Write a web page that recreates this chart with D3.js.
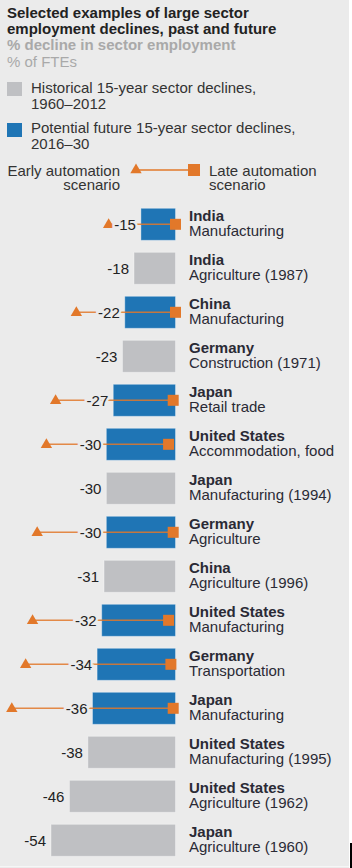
<!DOCTYPE html>
<html>
<head>
<meta charset="utf-8">
<script src="https://cdn.jsdelivr.net/npm/d3@7"></script>
<style>
  html, body { margin: 0; padding: 0; background: #fff; }
  svg { display: block; font-family: "Liberation Sans", Arial, sans-serif; }
</style>
</head>
<body>
<div id="chart"></div>
<script>
// Data
const countries = ["India", "India", "China", "Germany", "Japan", "United States", "Japan", "Germany",
    "China", "United States", "Germany", "Japan", "United States", "United States", "Japan"];
const sectors = ["Manufacturing", "Agriculture (1987)", "Manufacturing", "Construction (1971)", "Retail trade",
    "Accommodation, food", "Manufacturing (1994)", "Agriculture", "Agriculture (1996)", "Manufacturing",
    "Transportation", "Manufacturing", "Manufacturing (1995)", "Agriculture (1962)", "Agriculture (1960)"];
const kinds = ["future", "historical", "future", "historical", "future", "future", "historical", "future",
    "historical", "future", "future", "future", "historical", "historical", "historical"];
const declines = [-15, -18, -22, -23, -27, -30, -30, -30, -31, -32, -34, -36, -38, -46, -54];
// early / late automation scenarios (null for historical rows)
const earlyScenario = [-29, null, -43, null, -52, -56, null, -60, null, -62, -65, -71, null, null, null];
const lateScenario = [0, null, 0, null, -1, -3, null, -1, null, -3, -2, -1, null, null, null];

const width = 352, height = 868;
const bg = "#ebebeb";
const orange = "#e2782a";

const color = d3.scaleOrdinal()
    .domain(["historical", "future"])
    .range(["#bfc0c3", "#1f75b5"]);

const svg = d3.select("#chart").append("svg")
    .attr("width", width)
    .attr("height", height);

// panel
svg.append("rect").attr("x", 0).attr("y", 0).attr("width", 349).attr("height", height).attr("fill", bg);
svg.append("line").attr("x1", 0).attr("x2", 349).attr("y1", 866.5).attr("y2", 866.5)
    .attr("stroke", "#f6f6f6").attr("stroke-width", 1);
svg.append("rect").attr("x", 350).attr("y", 843).attr("width", 2).attr("height", 25).attr("fill", "#000");

// Title and subtitle
const title = svg.append("g").attr("font-size", 15);
title.append("text").attr("x", 7).attr("y", 17.5).attr("font-weight", "bold").attr("fill", "#222")
    .text("Selected examples of large sector");
title.append("text").attr("x", 7).attr("y", 34).attr("font-weight", "bold").attr("fill", "#222")
    .text("employment declines, past and future");
title.append("text").attr("x", 7).attr("y", 50).attr("font-weight", "bold").attr("fill", "#a9a9a9")
    .text("% decline in sector employment");
title.append("text").attr("x", 7).attr("y", 66.5).attr("fill", "#a9a9a9")
    .text("% of FTEs");

// Legend
const legend = svg.append("g").attr("font-size", 15).attr("fill", "#333");
legend.append("rect").attr("x", 7).attr("y", 82).attr("width", 15).attr("height", 14).attr("fill", color("historical"));
legend.append("text").attr("x", 31).attr("y", 92.5).text("Historical 15-year sector declines,");
legend.append("text").attr("x", 31).attr("y", 108.5).text("1960\u20132012");
legend.append("rect").attr("x", 7).attr("y", 123).attr("width", 15).attr("height", 14).attr("fill", color("future"));
legend.append("text").attr("x", 31).attr("y", 132.5).text("Potential future 15-year sector declines,");
legend.append("text").attr("x", 31).attr("y", 148.5).text("2016\u201330");

legend.append("text").attr("x", 120).attr("y", 175.5).attr("text-anchor", "end").text("Early automation");
legend.append("text").attr("x", 120).attr("y", 190).attr("text-anchor", "end").text("scenario");
legend.append("line").attr("x1", 136).attr("x2", 194).attr("y1", 170).attr("y2", 170)
    .attr("stroke", orange).attr("stroke-width", 1.5);
legend.append("path").attr("d", d3.symbol(d3.symbolTriangle, 56)())
    .attr("transform", "translate(136,170)").attr("fill", orange);
legend.append("rect").attr("x", 188).attr("y", 164).attr("width", 12).attr("height", 12).attr("fill", orange);
legend.append("text").attr("x", 209).attr("y", 175.5).text("Late automation");
legend.append("text").attr("x", 209).attr("y", 190).text("scenario");

// Scales
const x = d3.scaleLinear().domain([0, -54]).range([175.5, 51]);
const y = d3.scaleBand()
    .domain(d3.range(declines.length))
    .range([202.3, 202.3 + 44 * declines.length])
    .paddingInner(12 / 44)
    .paddingOuter(6 / 44);

const rows = svg.append("g").selectAll("g")
    .data(declines.map((v, i) => ({ i, v })))
    .join("g");

// Bars
rows.append("rect")
    .attr("x", d => x(d.v))
    .attr("y", d => y(d.i))
    .attr("width", d => x(0) - x(d.v))
    .attr("height", y.bandwidth())
    .attr("fill", d => color(kinds[d.i]))
    .attr("stroke", "rgba(255,255,255,0.35)")
    .attr("stroke-width", 1);

// Scenario ranges
const scen = rows.filter(d => earlyScenario[d.i] !== null);
const cy = d => y(d.i) + y.bandwidth() / 2;

scen.append("line")
    .attr("x1", d => x(earlyScenario[d.i]))
    .attr("x2", d => x(lateScenario[d.i]))
    .attr("y1", cy)
    .attr("y2", cy)
    .attr("stroke", orange)
    .attr("stroke-opacity", 0.85)
    .attr("stroke-width", 1.5);

scen.append("path")
    .attr("d", d3.symbol(d3.symbolTriangle, 56)())
    .attr("transform", d => `translate(${x(earlyScenario[d.i])},${cy(d) + 0.5})`)
    .attr("fill", orange);

scen.append("rect")
    .attr("x", d => x(lateScenario[d.i]) - 5.5)
    .attr("y", d => cy(d) - 5.5)
    .attr("width", 11)
    .attr("height", 11)
    .attr("fill", orange);

// Value labels (with a background halo that cuts the line)
rows.append("text")
    .attr("x", d => x(d.v) - 5)
    .attr("y", d => cy(d) + 6)
    .attr("text-anchor", "end")
    .attr("font-size", 15)
    .attr("fill", "#222")
    .attr("stroke", bg)
    .attr("stroke-width", 5)
    .attr("paint-order", "stroke")
    .text(d => d.v);

// Row labels
rows.append("text")
    .attr("x", 189)
    .attr("y", d => cy(d) - 3)
    .attr("font-size", 15)
    .attr("font-weight", "bold")
    .attr("fill", "#2a2a35")
    .text(d => countries[d.i]);

rows.append("text")
    .attr("x", 189)
    .attr("y", d => cy(d) + 12)
    .attr("font-size", 15)
    .attr("fill", "#2a2a35")
    .text(d => sectors[d.i]);
</script>
</body>
</html>
